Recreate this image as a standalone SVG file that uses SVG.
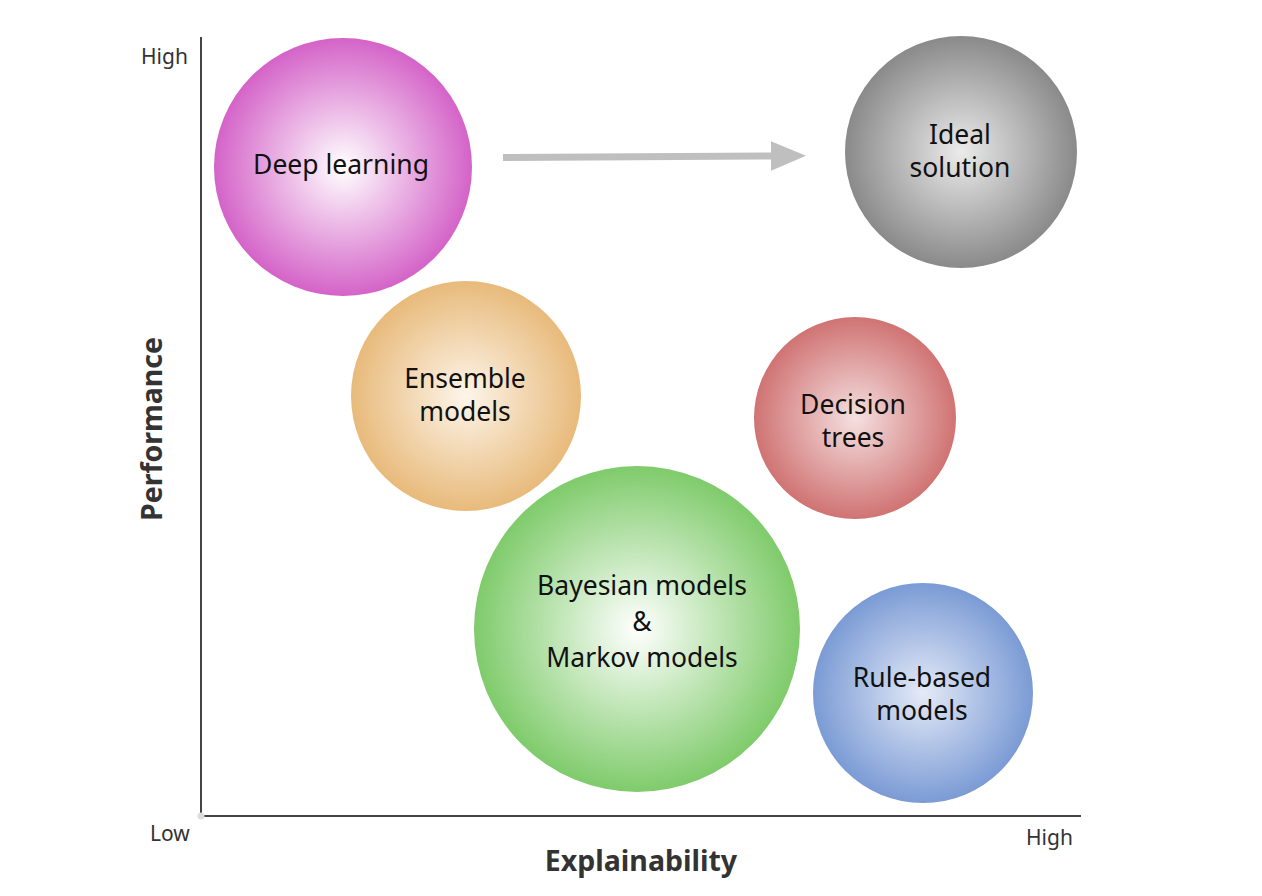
<svg xmlns="http://www.w3.org/2000/svg" width="1262" height="896" viewBox="0 0 1262 896">
<style>
.lbl{font-family:"Noto Sans","Open Sans",sans-serif;font-size:26.5px;fill:#111;text-anchor:middle}
.tick{font-family:"Noto Sans","Open Sans",sans-serif;font-size:21px;fill:#333}
.axt{font-family:"Noto Sans","Open Sans",sans-serif;font-size:28.5px;font-weight:bold;fill:#333;text-anchor:middle}
.axis{stroke:#444;stroke-width:2;fill:none}
</style>
<defs>
<radialGradient id="gMag"><stop offset="0" stop-color="#ffffff"/><stop offset="1" stop-color="#d463c8"/></radialGradient>
<radialGradient id="gGrey"><stop offset="0" stop-color="#ebebeb"/><stop offset="1" stop-color="#8a8a8a"/></radialGradient>
<radialGradient id="gOra"><stop offset="0" stop-color="#fdf5ea"/><stop offset="1" stop-color="#e8ba7b"/></radialGradient>
<radialGradient id="gRed"><stop offset="0" stop-color="#f5e0e0"/><stop offset="1" stop-color="#d07373"/></radialGradient>
<radialGradient id="gGrn"><stop offset="0" stop-color="#ffffff"/><stop offset="1" stop-color="#7fcb6b"/></radialGradient>
<radialGradient id="gBlu"><stop offset="0" stop-color="#e4eaf7"/><stop offset="1" stop-color="#7b9bd5"/></radialGradient>
<marker id="ah" markerWidth="5" markerHeight="4.2" refX="0" refY="2.1" orient="auto" markerUnits="strokeWidth"><path d="M0,0 L5,2.1 L0,4.2 Z" fill="#bfbfbf"/></marker>
</defs>
<g id="axes">
<line class="axis" x1="201" y1="37" x2="201" y2="816"/>
<line class="axis" x1="201" y1="816" x2="1081" y2="816"/>
<circle cx="201" cy="816" r="3.5" fill="#dddddd"/>
<text class="tick" x="141" y="64">High</text>
<text class="tick" x="150" y="841">Low</text>
<text class="tick" x="1026" y="845">High</text>
<text class="axt" transform="translate(162,429) rotate(-90)">Performance</text>
<text class="axt" x="641" y="871">Explainability</text>
</g>
<g id="connectors">
<line x1="503" y1="157.5" x2="771" y2="156" stroke="#bfbfbf" stroke-width="7" marker-end="url(#ah)"/>
</g>
<g id="deep-learning">
<circle cx="343" cy="167" r="129" fill="url(#gMag)"/>
<text class="lbl" x="341" y="174">Deep learning</text>
</g>
<g id="ideal-solution">
<circle cx="961" cy="152" r="116" fill="url(#gGrey)"/>
<text class="lbl" x="960" y="144">Ideal</text>
<text class="lbl" x="960" y="177">solution</text>
</g>
<g id="ensemble-models">
<circle cx="466" cy="396" r="115" fill="url(#gOra)"/>
<text class="lbl" x="465" y="388">Ensemble</text>
<text class="lbl" x="465" y="421">models</text>
</g>
<g id="decision-trees">
<circle cx="855" cy="418" r="101" fill="url(#gRed)"/>
<text class="lbl" x="853" y="414">Decision</text>
<text class="lbl" x="853" y="447">trees</text>
</g>
<g id="bayesian-markov">
<circle cx="637" cy="629" r="163" fill="url(#gGrn)"/>
<text class="lbl" x="642" y="595">Bayesian models</text>
<text class="lbl" x="642" y="631">&amp;</text>
<text class="lbl" x="642" y="667">Markov models</text>
</g>
<g id="rule-based">
<circle cx="923" cy="693" r="110" fill="url(#gBlu)"/>
<text class="lbl" x="922" y="687">Rule-based</text>
<text class="lbl" x="922" y="720">models</text>
</g>
</svg>
